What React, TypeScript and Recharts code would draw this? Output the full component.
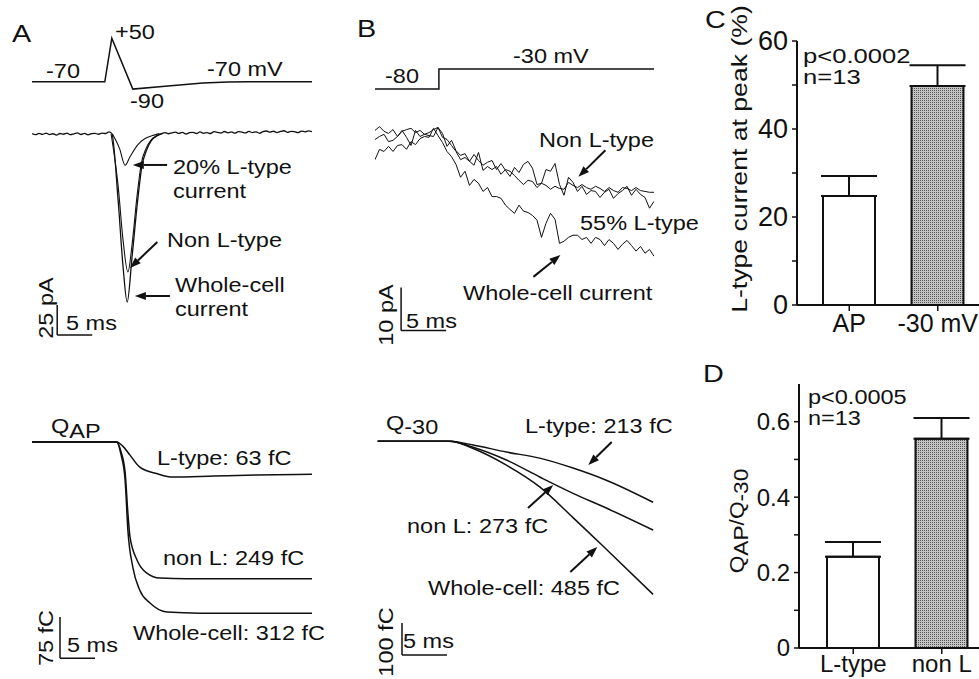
import React from 'react';
import { LineChart, Line, XAxis, YAxis, ReferenceLine, BarChart, Bar, Cell, ErrorBar } from 'recharts';

const FONT = '"Liberation Sans", Arial, Helvetica, sans-serif';
const INK = '#111';

// ---------- A: AP clamp ----------
// command waveform (ms, mV)
const apTime = [0, 10.4, 11.4, 14.4, 19, 24.4, 28, 31, 40];
const apVolt = [-70, -70, 50, -90, -82, -73, -70.5, -70, -70];

// evoked currents (ms, pA)
const apWholeTime = [
  0, 0.5, 1, 1.5, 2, 2.5, 3, 3.5, 4, 4.5, 5, 5.5, 6, 6.5, 7, 7.5, 8, 8.5, 9, 9.5, 10, 10.5, 11,
  11.4, 12.3, 13.0, 13.6, 14.3, 15.1, 15.7, 16.4, 17.1, 17.9,
  18.5, 19, 19.5, 20, 20.5, 21, 21.5, 22, 22.5, 23, 23.5, 24, 24.5, 25, 25.5, 26, 26.5, 27, 27.5, 28,
  28.5, 29, 29.5, 30, 30.5, 31, 31.5, 32, 32.5, 33, 33.5, 34, 34.5, 35, 35.5, 36, 36.5, 37, 37.5, 38,
  38.5, 39, 39.5, 40,
];
const apWholeCurrent = [
  0.3, -0.6, 0.5, -0.3, 0.8, -0.5, 0.2, -0.9, 0.4, -0.2, 0.7, -0.6, 0.1, 0.9, -0.4, 0.5, -0.7, 0.3, 0.6, -0.2, 0.8, 0.4, 1.8,
  0.5, -55, -110, -140, -102, -55, -27, -13, -5, -1.5,
  0.3, 1.2, 0.2, 1.0, 1.5, 0.5, 1.3, 0.0, 1.1, 1.4, 0.4, 1.7, 0.6, 1.2, 0.4, 1.9, 1.4, 0.8, 2.1, 1.0,
  1.7, 0.7, 2.0, 1.5, 0.9, 2.2, 1.2, 1.8, 0.6, 2.0, 2.5, 1.5, 2.3, 1.2, 2.1, 2.7, 1.4, 2.2, 1.9, 1.1,
  2.4, 1.8, 2.6, 2.0,
];
const apNonLTime = [11.3, 12.3, 13.0, 13.7, 14.3, 15.0, 15.6, 16.3, 17.0, 17.8, 18.6];
const apNonLCurrent = [0, -43, -88, -115, -92, -52, -25, -12, -5, -1.5, 0.3];
const apLTime = [11.5, 12.5, 13.3, 14.0, 15.1, 16.1, 17.1, 18.2];
const apLCurrent = [0, -12, -26, -19, -9, -4, -1.5, 0.3];

// integrated charge (ms, fC)
const qApWholeTime = [0, 12.1, 12.7, 13.3, 13.7, 14.4, 15.4, 16.9, 19.3, 24, 40];
const qApWhole = [0, 0, -22, -69, -161, -228, -270, -294, -310, -312, -312];
const qApNonLTime = [0, 12.1, 12.7, 13.3, 13.7, 14.0, 15.0, 16.4, 18.3, 22, 40];
const qApNonL = [0, 0, -17, -55, -130, -173, -215, -239, -248, -249, -249];
const qApLTime = [0, 12.1, 13.0, 14.0, 15.4, 17.9, 20.1, 26, 32, 40];
const qApL = [0, 0, -8, -24, -46, -58, -64, -62, -60, -59];

// ---------- B: step to -30 mV ----------
const stepTime = [0, 7.1, 7.1, 31];
const stepVolt = [-80, -80, -30, -30];

// sampled every 0.5 ms
const stepSampleTime = Array.from({ length: 63 }, (_, i) => i * 0.5);
const stepWhole = [
  -4.7, -2.3, -2.8, -1.6, -2.8, -1.4, -1.2, -2.3, -0.5, -1.2, 0.2, 0.7, 0.5, 2.6, 0.9,
  -0.7, -2.8, -4.0, -5.8, -8.8, -7.4, -10.7, -9.3, -10.2, -12.1, -11.2, -13.3, -13.3, -13.7, -15.3, -16.3, -17.2, -15.3,
  -16.7, -17.0, -17.7, -18.8, -22.8, -19.5, -17.2, -18.6, -24.2, -23.7, -22.8, -22.3, -22.3, -23.3, -22.8,
  -24.2, -22.8, -23.3, -24.7, -23.3, -24.2, -25.6, -24.4, -23.5, -24.7, -26.0, -24.9, -26.5, -25.6, -27.2,
];
const stepNonL = [
  2.1, 3.0, 1.9, 1.4, 2.3, 0.7, 1.9, 2.3, 2.6, 1.6, 2.1, 1.2, 1.6, 2.3, 2.8,
  1.4, -1.6, -0.2, -2.6, -3.7, -3.3, -5.1, -3.5, -4.9, -6.0, -5.3, -4.9, -7.0, -5.6, -7.2, -8.6, -6.5, -7.7,
  -5.8, -5.1, -6.7, -10.5, -10.2, -7.0, -7.4, -5.6, -10.5, -13.0, -8.8, -10.0, -12.1, -10.9, -12.8,
  -11.9, -12.1, -13.5, -12.3, -11.6, -13.7, -12.6, -11.9, -10.9, -13.0, -11.6, -12.8, -13.5, -16.0, -14.4,
];
const stepL = [
  0, 0.7, 1.2, -0.5, -0.2, 0.7, 2.1, 0.5, -1.4, 2.1, 0.7, 1.2, 0.9, 0.7, 2.8,
  0.5, 0, -1.4, -2.8, -4.7, -4.2, -5.1, -6.0, -3.0, -7.2, -6.3, -7.0, -6.3, -8.1, -7.0, -7.4, -8.4, -9.5,
  -10.5, -9.5, -9.8, -11.2, -10.2, -10.7, -11.6, -10.9, -11.4, -11.6, -10.0, -10.7, -11.2, -10.5, -11.2,
  -11.6, -10.9, -11.4, -12.1, -11.2, -11.9, -12.3, -11.2, -11.4, -11.9, -11.2, -11.9, -12.1, -12.3, -12.3,
];

const q30Time = [0.3, 8.3, 10.9, 14.6, 18.3, 22.0, 25.7, 30.9];
const q30L = [0, 0, -12, -34, -53, -84, -122, -191];
const q30NonL = [0, 0, -19, -59, -112, -163, -209, -278];
const q30Whole = [0, 0, -23, -75, -143, -239, -338, -479];

// ---------- C / D: summary bars ----------
const cCats = ['AP', '-30 mV'];
const cPct = [24.8, 49.8];
const cSem = [4.5, 4.7];
const dCats = ['L-type', 'non L'];
const dRatio = [0.242, 0.555];
const dSem = [0.039, 0.055];

const pts = (ts: number[], vs: number[]) => ts.map((t, i) => ({ t, v: vs[i] }));

const Arrow = (p: any) => {
  const { x1, y1, x2, y2 } = p;
  const a = Math.atan2(y2 - y1, x2 - x1);
  const len = 11;
  const w = 4;
  const bx = x2 - len * Math.cos(a);
  const by = y2 - len * Math.sin(a);
  const head = `${x2},${y2} ${bx + w * Math.sin(a)},${by - w * Math.cos(a)} ${bx - w * Math.sin(a)},${by + w * Math.cos(a)}`;
  return (
    <g>
      <line x1={x1} y1={y1} x2={bx} y2={by} stroke={INK} strokeWidth={2} />
      <polygon points={head} fill={INK} />
    </g>
  );
};

function Trace({ left, top, width, height, x, y, children }: any) {
  return (
    <div style={{ position: 'absolute', left, top }}>
      <LineChart width={width} height={height} margin={{ top: 0, right: 0, bottom: 0, left: 0 }}>
        <XAxis type="number" dataKey="t" domain={x} hide allowDataOverflow />
        <YAxis type="number" dataKey="v" domain={y} hide allowDataOverflow />
        {children}
      </LineChart>
    </div>
  );
}

const line = (key: string, data: any[], w = 1.3, curve: any = 'monotone') => (
  <Line key={key} data={data} dataKey="v" type={curve} stroke={INK} strokeWidth={w} dot={false} isAnimationActive={false} />
);

const seg = (x1: number, y1: number, x2: number, y2: number) => (
  <ReferenceLine segment={[{ x: x1, y: y1 }, { x: x2, y: y2 }]} stroke={INK} strokeWidth={1.5} ifOverflow="visible" />
);

const arrow = (x1: number, y1: number, x2: number, y2: number) => (
  <ReferenceLine segment={[{ x: x1, y: y1 }, { x: x2, y: y2 }]} shape={Arrow} ifOverflow="visible" />
);

// the printed lettering is a little wider than Arial, so stretch it along the baseline
const Txt = ({ x, y, size = 21, sx = 1.12, anchor = 'start', rot = false, children }: any) => (
  <text
    x={0}
    y={0}
    fontSize={size}
    textAnchor={anchor}
    fill={INK}
    transform={`translate(${x} ${y}) rotate(${rot ? -90 : 0}) scale(${sx} 1)`}
  >
    {children}
  </text>
);

function SummaryBars({ top, height, cats, means, sems, domain, ticks, plotTop, axisH, axisW, pad, labelEvery, tickFont, catFont, catMargin, fmt }: any) {
  const data = cats.map((name: string, i: number) => ({ name, value: means[i], err: [0, sems[i]] }));
  const renderTick = (p: any) => {
    const v = p.payload.value;
    if (Math.round((v / labelEvery) * 1000) % 1000 !== 0) return <g />;
    return (
      <text x={p.x} y={p.y} dy="0.35em" textAnchor="end" fontSize={tickFont} fill={INK}>
        {fmt(v)}
      </text>
    );
  };
  return (
    <div style={{ position: 'absolute', left: 680, top }}>
      <BarChart width={310} height={height} data={data} margin={{ top: plotTop, right: 0, bottom: 0, left: 0 }}>
        <XAxis
          dataKey="name"
          height={axisH}
          padding={pad}
          interval={0}
          axisLine={{ stroke: INK, strokeWidth: 2 }}
          tickLine={{ stroke: INK, strokeWidth: 1.5 }}
          tickSize={6}
          tickMargin={catMargin}
          tick={{ fontSize: catFont, fill: INK }}
        />
        <YAxis
          type="number"
          width={axisW}
          domain={domain}
          ticks={ticks}
          interval={0}
          allowDataOverflow
          axisLine={{ stroke: INK, strokeWidth: 2 }}
          tickLine={{ stroke: INK, strokeWidth: 1.5 }}
          tickSize={5}
          tickMargin={4}
          tick={renderTick}
        />
        <Bar dataKey="value" barSize={52} stroke={INK} strokeWidth={2} isAnimationActive={false}>
          {data.map((_: any, i: number) => (
            <Cell key={i} fill={i === 0 ? '#fff' : 'url(#stipple)'} />
          ))}
          <ErrorBar dataKey="err" width={28} stroke={INK} strokeWidth={2} direction="y" isAnimationActive={false} />
        </Bar>
      </BarChart>
    </div>
  );
}

export default function App() {
  return (
    <div
      style={{
        position: 'absolute',
        left: 0,
        top: 0,
        width: 979,
        height: 679,
        overflow: 'hidden',
        background: '#fff',
        fontFamily: FONT,
      }}
    >
      {/* A: voltage command */}
      <Trace left={32} top={31} width={280} height={69} x={[0, 40]} y={[-120, 70]}>
        {line('ap', pts(apTime, apVolt), 1.5, 'linear')}
      </Trace>

      {/* A: currents */}
      <Trace left={32} top={122} width={280} height={216} x={[0, 40]} y={[-170, 10]}>
        {line('l', pts(apLTime, apLCurrent), 1.1)}
        {line('nonl', pts(apNonLTime, apNonLCurrent), 1.1)}
        {line('whole', pts(apWholeTime, apWholeCurrent), 1.3)}
        {seg(3.6, -142.5, 3.6, -167.5)}
        {seg(3.6, -167.5, 8.6, -167.5)}
        {arrow(19.3, -25.8, 14.4, -25.8)}
        {arrow(17.9, -90, 14.0, -111.7)}
        {arrow(19.7, -135, 14.7, -135)}
      </Trace>

      {/* A: charge */}
      <Trace left={32} top={431} width={280} height={236} x={[0, 40]} y={[-410, 20]}>
        {line('ql', pts(qApLTime, qApL), 1.5)}
        {line('qnonl', pts(qApNonLTime, qApNonL), 1.5)}
        {line('qwhole', pts(qApWholeTime, qApWhole), 1.5)}
        {seg(4, -319, 4, -394)}
        {seg(4, -394, 9, -394)}
      </Trace>

      {/* B: voltage step */}
      <Trace left={375} top={61} width={279} height={36} x={[0, 31]} y={[-100, -10]}>
        {line('step', pts(stepTime, stepVolt), 1.5, 'linear')}
      </Trace>

      {/* B: currents */}
      <Trace left={375} top={118} width={279} height={219} x={[0, 31]} y={[-46, 5]}>
        {line('bl', pts(stepSampleTime, stepL), 1, 'linear')}
        {line('bnonl', pts(stepSampleTime, stepNonL), 1, 'linear')}
        {line('bwhole', pts(stepSampleTime, stepWhole), 1, 'linear')}
        {seg(2.9, -34.5, 2.9, -44.5)}
        {seg(2.9, -44.5, 7.9, -44.5)}
        {arrow(25.6, -2.5, 22.6, -8.7)}
        {arrow(17.6, -32.0, 20.6, -26.9)}
      </Trace>

      {/* B: charge */}
      <Trace left={375} top={430} width={279} height={235} x={[0, 31]} y={[-700, 35]}>
        {line('bql', pts(q30Time, q30L), 1.5)}
        {line('bqnonl', pts(q30Time, q30NonL), 1.5)}
        {line('bqwhole', pts(q30Time, q30Whole), 1.5)}
        {seg(3, -569, 3, -669)}
        {seg(3, -669, 8, -669)}
        {arrow(26.3, -2.5, 23.7, -74.5)}
        {arrow(17.0, -209, 19.8, -137)}
        {arrow(21.7, -409, 24.7, -331)}
      </Trace>

      {/* C */}
      <SummaryBars
        top={0}
        height={340}
        cats={cCats}
        means={cPct}
        sems={cSem}
        domain={[0, 60]}
        ticks={[0, 10, 20, 30, 40, 50, 60]}
        plotTop={41}
        axisH={35}
        axisW={117}
        pad={{ left: 8, right: 8 }}
        labelEvery={20}
        tickFont={27}
        catFont={25}
        catMargin={3}
        fmt={(v: number) => String(v)}
      />

      {/* D */}
      <SummaryBars
        top={340}
        height={339}
        cats={dCats}
        means={dRatio}
        sems={dSem}
        domain={[0, 0.7]}
        ticks={[0, 0.1, 0.2, 0.3, 0.4, 0.5, 0.6]}
        plotTop={44}
        axisH={31}
        axisW={119}
        pad={{ left: 10, right: 4 }}
        labelEvery={0.2}
        tickFont={24}
        catFont={24}
        catMargin={1}
        fmt={(v: number) => (v === 0 ? '0' : v.toFixed(1))}
      />

      <svg width={979} height={679} style={{ position: 'absolute', left: 0, top: 0, pointerEvents: 'none' }}>
        <defs>
          <pattern id="stipple" width="2" height="2" patternUnits="userSpaceOnUse">
            <rect width="2" height="2" fill="#c4c4c4" />
            <rect width="1" height="1" fill="#555" />
          </pattern>
        </defs>

        {/* A */}
        <Txt x={12} y={42} size={24} sx={1.2}>A</Txt>
        <Txt x={115} y={39}>+50</Txt>
        <Txt x={46} y={78}>-70</Txt>
        <Txt x={207} y={76}>-70 mV</Txt>
        <Txt x={130} y={108}>-90</Txt>
        <Txt x={173} y={174}>20% L-type</Txt>
        <Txt x={173} y={198}>current</Txt>
        <Txt x={167} y={247}>Non L-type</Txt>
        <Txt x={175} y={292}>Whole-cell</Txt>
        <Txt x={175} y={316}>current</Txt>
        <Txt x={53} y={308} anchor="middle" rot>25 pA</Txt>
        <Txt x={66} y={330}>5 ms</Txt>
        <text x={0} y={0} fontSize={21} fill={INK} transform="translate(51 433) scale(1.12 1)">
          Q<tspan dy={5}>AP</tspan>
        </text>
        <Txt x={157} y={465}>L-type: 63 fC</Txt>
        <Txt x={163} y={565}>non L: 249 fC</Txt>
        <Txt x={133} y={640}>Whole-cell: 312 fC</Txt>
        <Txt x={53} y={638} anchor="middle" rot>75 fC</Txt>
        <Txt x={67} y={652}>5 ms</Txt>

        {/* B */}
        <Txt x={357} y={37} size={24} sx={1.2}>B</Txt>
        <Txt x={513} y={63}>-30 mV</Txt>
        <Txt x={385} y={83}>-80</Txt>
        <Txt x={539} y={147}>Non L-type</Txt>
        <Txt x={580} y={230}>55% L-type</Txt>
        <Txt x={463} y={300}>Whole-cell current</Txt>
        <Txt x={393} y={315} anchor="middle" rot>10 pA</Txt>
        <Txt x={406} y={328}>5 ms</Txt>
        <text x={0} y={0} fontSize={21} fill={INK} transform="translate(386 430) scale(1.12 1)">
          Q<tspan dy={4}>-30</tspan>
        </text>
        <Txt x={525} y={433}>L-type: 213 fC</Txt>
        <Txt x={407} y={533}>non L: 273 fC</Txt>
        <Txt x={428} y={595}>Whole-cell: 485 fC</Txt>
        <Txt x={393} y={642} anchor="middle" rot>100 fC</Txt>
        <Txt x={403} y={648}>5 ms</Txt>

        {/* C */}
        <Txt x={705} y={28} size={24} sx={1.2}>C</Txt>
        <Txt x={803} y={63} size={21} sx={1.22}>p&lt;0.0002</Txt>
        <Txt x={803} y={84} size={21} sx={1.22}>n=13</Txt>
        <Txt x={747} y={159} size={22} sx={1.21} anchor="middle" rot>L-type current at peak (%)</Txt>

        {/* D */}
        <Txt x={703} y={382} size={24} sx={1.2}>D</Txt>
        <Txt x={808} y={404}>p&lt;0.0005</Txt>
        <Txt x={808} y={425}>n=13</Txt>
        <text x={0} y={0} fontSize={21} fill={INK} textAnchor="middle" transform="translate(744 521) rotate(-90) scale(1.08 1)">
          Q<tspan dy={4}>AP</tspan>
          <tspan dy={-4}>/Q</tspan>
          <tspan dy={4}>-30</tspan>
        </text>
      </svg>
    </div>
  );
}
